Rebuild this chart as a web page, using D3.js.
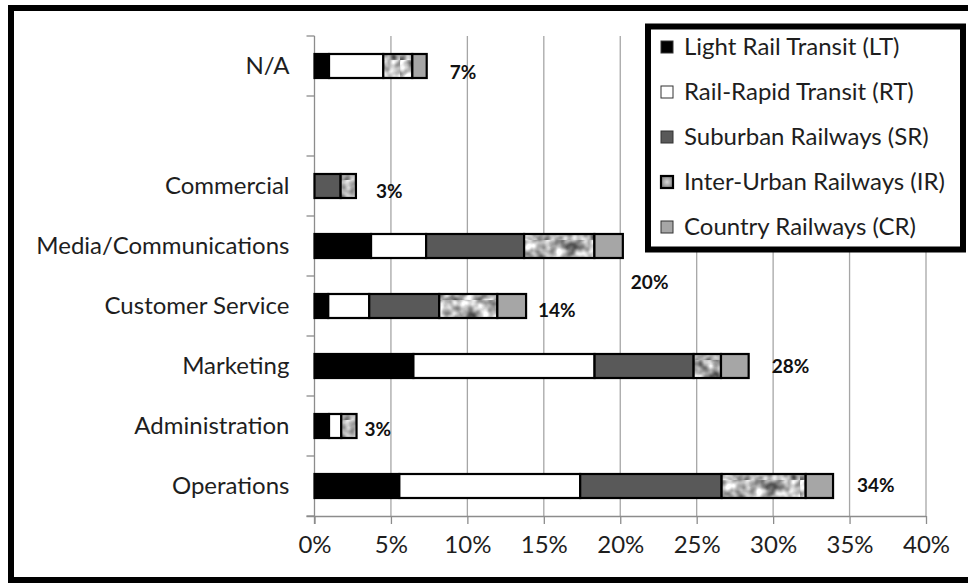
<!DOCTYPE html>
<html>
<head>
<meta charset="utf-8">
<script src="https://cdn.jsdelivr.net/npm/d3@7"></script>
<style>
  body { margin: 0; background: #fff; }
  svg { display: block; }
</style>
</head>
<body>
<script>
// Departments (top to bottom); the unnamed row is an empty spacer category
const categories = ["N/A", "", "Commercial", "Media/Communications", "Customer Service", "Marketing", "Administration", "Operations"];
const seriesNames = ["Light Rail Transit (LT)", "Rail-Rapid Transit (RT)", "Suburban Railways (SR)", "Inter-Urban Railways (IR)", "Country Railways (CR)"];

// Share of respondents (%) per department and railway type
const lightRail  = [0.95, 0, 0,    3.70, 0.90,  6.47, 0.95,  5.55];
const railRapid  = [3.55, 0, 0,    3.60, 2.68, 11.85, 0.80, 11.83];
const suburban   = [0,    0, 1.71, 6.41, 4.58,  6.48, 0,     9.25];
const interUrban = [1.90, 0, 1.00, 4.60, 3.80,  1.79, 1.00,  5.50];
const country    = [0.94, 0, 0,    1.86, 1.88,  1.81, 0,     1.79];

const xTicks = [0, 5, 10, 15, 20, 25, 30, 35, 40];

// Label placement relative to the bar end / row centre (px)
const labelNudge = [[23, 13], [0, 0], [20, 12], [8, 43], [12, 11], [23, 7], [8, 10], [24, 6]];

const W = 968, H = 583;
const FONT = "Lato, 'Open Sans', sans-serif";
const margin = { left: 314.5, right: 926, top: 36, bottom: 516 };

const seriesValues = [lightRail, railRapid, suburban, interUrban, country];
const keys = ["LT", "RT", "SR", "IR", "CR"];
const fills = ["#000000", "#ffffff", "#595959", "url(#granite-pat)", "#a6a6a6"];

const rows = categories.map((c, i) => {
  const r = { category: c };
  keys.forEach((k, j) => r[k] = seriesValues[j][i]);
  return r;
});
const stacked = d3.stack().keys(keys)(rows);

const svg = d3.select("body").append("svg").attr("width", W).attr("height", H);

// mottled grey fill for the inter-urban segments
const defs = svg.append("defs");
const filt = defs.append("filter").attr("id", "granite")
  .attr("x", 0).attr("y", 0).attr("width", 1).attr("height", 1)
  .attr("color-interpolation-filters", "sRGB");
filt.append("feTurbulence").attr("type", "fractalNoise").attr("baseFrequency", 0.09)
  .attr("numOctaves", 2).attr("seed", 11).attr("result", "n");
filt.append("feColorMatrix").attr("in", "n").attr("type", "matrix")
  .attr("values", "1.35 0 0 0 0.02  1.35 0 0 0 0.02  1.35 0 0 0 0.02  0 0 0 0 1").attr("result", "g");
filt.append("feGaussianBlur").attr("in", "g").attr("stdDeviation", 0.6);
const pat = defs.append("pattern").attr("id", "granite-pat").attr("patternUnits", "userSpaceOnUse")
  .attr("width", 200).attr("height", 60);
pat.append("rect").attr("width", 200).attr("height", 60).attr("fill", "#aaa").attr("filter", "url(#granite)");

// shaded swatch used for the inter-urban legend key
const rg = defs.append("radialGradient").attr("id", "ir-key");
rg.append("stop").attr("offset", "0%").attr("stop-color", "#d8d8d8");
rg.append("stop").attr("offset", "100%").attr("stop-color", "#8a8a8a");

const x = d3.scaleLinear().domain([0, 40]).range([margin.left, margin.right]);
const y = d3.scaleBand().domain(categories).range([margin.top, margin.bottom])
  .paddingInner(0.6).paddingOuter(0.3);
const barH = y.bandwidth();
const step = y.step();

// vertical gridlines
svg.append("g").selectAll("line").data(xTicks.slice(1)).join("line")
  .attr("x1", d => x(d)).attr("x2", d => x(d))
  .attr("y1", margin.top).attr("y2", margin.bottom)
  .attr("stroke", "#a6a6a6").attr("stroke-width", 1.3);

// x axis
const xAxis = svg.append("g").attr("transform", `translate(0,${margin.bottom})`)
  .call(d3.axisBottom(x).tickValues(xTicks).tickFormat(d => d + "%").tickSize(8).tickSizeOuter(0).tickPadding(12));
xAxis.select(".domain").attr("stroke", "#8c8c8c").attr("stroke-width", 1.3)
  .attr("d", `M${margin.left - 8},0.5H${margin.right}`);
xAxis.selectAll(".tick line").attr("stroke", "#8c8c8c").attr("stroke-width", 1.3);
xAxis.selectAll(".tick text").attr("font-family", FONT).attr("font-size", 24).attr("fill", "#1e1e1e");

// y axis: line with ticks at the row boundaries
const yAxisG = svg.append("g");
yAxisG.append("line").attr("x1", margin.left).attr("x2", margin.left)
  .attr("y1", margin.top).attr("y2", margin.bottom + 8)
  .attr("stroke", "#8c8c8c").attr("stroke-width", 1.3);
yAxisG.selectAll(".bt").data(d3.range(categories.length + 1)).join("line")
  .attr("x1", margin.left - 8).attr("x2", margin.left)
  .attr("y1", i => margin.top + i * step).attr("y2", i => margin.top + i * step)
  .attr("stroke", "#8c8c8c").attr("stroke-width", 1.3);
yAxisG.selectAll("text").data(categories).join("text")
  .attr("x", margin.left - 25).attr("y", d => y(d) + barH / 2)
  .attr("dy", "0.35em").attr("text-anchor", "end")
  .attr("font-family", FONT).attr("font-size", 24).attr("fill", "#1e1e1e")
  .text(d => d);

// stacked bars
const segs = svg.append("g");
stacked.forEach((layer, j) => {
  const g = segs.append("g");
  g.selectAll("rect").data(layer.filter(d => d[1] - d[0] > 0)).join("rect")
    .attr("x", d => x(d[0])).attr("width", d => x(d[1]) - x(d[0]))
    .attr("y", d => y(d.data.category)).attr("height", barH)
    .attr("fill", fills[j]).attr("stroke", "#000").attr("stroke-width", 2.2);
});

// total labels
const totals = categories.map((c, i) => d3.sum(seriesValues, s => s[i]));
svg.append("g").selectAll("text").data(categories.map((c, i) => ({ c, i })).filter(d => totals[d.i] > 0)).join("text")
  .attr("x", d => x(totals[d.i]) + labelNudge[d.i][0])
  .attr("y", d => y(d.c) + barH / 2 + labelNudge[d.i][1])
  .attr("font-family", FONT).attr("font-weight", 700).attr("font-size", 19).attr("fill", "#111")
  .text(d => Math.round(totals[d.i]) + "%");

// legend
const lg = svg.append("g");
lg.append("rect").attr("x", 648).attr("y", 26.5).attr("width", 315).attr("height", 223)
  .attr("fill", "#fff").attr("stroke", "#000").attr("stroke-width", 6);
const items = lg.selectAll("g.item").data(seriesNames).join("g")
  .attr("transform", (d, i) => `translate(661,${55 + i * 45})`);
items.append("rect").attr("x", 0).attr("y", -14).attr("width", 12).attr("height", 12)
  .attr("fill", (d, i) => i === 3 ? "url(#ir-key)" : fills[i]).attr("stroke", (d, i) => i === 3 ? "#000" : "#333")
  .attr("stroke-width", (d, i) => i === 3 ? 2.2 : 1);
items.append("text").attr("x", 23).attr("y", 0)
  .attr("font-family", FONT).attr("font-size", 24).attr("fill", "#1e1e1e")
  .text(d => d);

// chart frame
svg.append("rect").attr("x", 11).attr("y", 8).attr("width", 975).attr("height", 572)
  .attr("fill", "none").attr("stroke", "#000").attr("stroke-width", 6);
</script>
</body>
</html>
